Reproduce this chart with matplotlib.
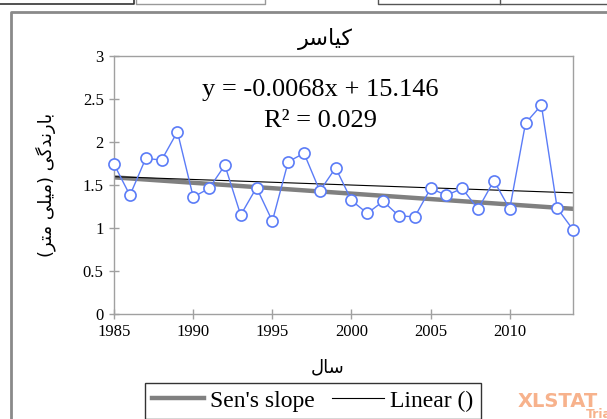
import numpy as np
import matplotlib
matplotlib.use("Agg")
import matplotlib.pyplot as plt
from matplotlib.lines import Line2D

# annual precipitation series, Kiasar station
years = np.arange(1985, 2015)
rain = [1.74, 1.38, 1.81, 1.79, 2.12, 1.36, 1.46, 1.73, 1.15, 1.47,
        1.08, 1.77, 1.87, 1.43, 1.70, 1.32, 1.17, 1.31, 1.14, 1.13,
        1.46, 1.38, 1.46, 1.22, 1.55, 1.22, 2.22, 2.43, 1.23, 0.98]

title_txt = "کیاسر"
xlabel_txt = "سال"
ylabel_txt = "بارندگی (میلی متر)"
eq_txt = "y = -0.0068x + 15.146"
r2_txt = "R² = 0.029"
xticks = [1985, 1990, 1995, 2000, 2005, 2010]
yticks = [0, 0.5, 1, 1.5, 2, 2.5, 3]

# minimal Persian shaping: contextual forms + right-to-left order
FORMS = {
    "ک": ("\uFB8E", "\uFB8F", "\uFB90", "\uFB91"),
    "ی": ("\uFBFC", "\uFBFD", "\uFBFE", "\uFBFF"),
    "س": ("\uFEB1", "\uFEB2", "\uFEB3", "\uFEB4"),
    "ل": ("\uFEDD", "\uFEDE", "\uFEDF", "\uFEE0"),
    "ب": ("\uFE8F", "\uFE90", "\uFE91", "\uFE92"),
    "ن": ("\uFEE5", "\uFEE6", "\uFEE7", "\uFEE8"),
    "گ": ("\uFB92", "\uFB93", "\uFB94", "\uFB95"),
    "م": ("\uFEE1", "\uFEE2", "\uFEE3", "\uFEE4"),
    "ت": ("\uFE95", "\uFE96", "\uFE97", "\uFE98"),
    "ا": ("\uFE8D", "\uFE8E"),
    "ر": ("\uFEAD", "\uFEAE"),
    "د": ("\uFEA9", "\uFEAA"),
}


def dual(c):
    return c in FORMS and len(FORMS[c]) == 4


def shape(s):
    out = []
    for i, c in enumerate(s):
        if c not in FORMS:
            out.append(c)
            continue
        prev = s[i - 1] if i > 0 else ""
        nxt = s[i + 1] if i + 1 < len(s) else ""
        jp = dual(prev)
        jn = dual(c) and nxt in FORMS
        f = FORMS[c]
        if jp and jn:
            out.append(f[3])
        elif jp:
            out.append(f[1])
        elif jn:
            out.append(f[2])
        else:
            out.append(f[0])
    vis = "".join(reversed(out))
    return vis.translate(str.maketrans("()", ")("))


plt.rcParams["font.family"] = ["Liberation Serif", "DejaVu Sans"]
fa = ["DejaVu Sans"]

W, H = 607, 419
def fx(px):
    return px / W
def fy(py):
    return 1 - py / H

fig = plt.figure(figsize=(6.07, 4.19), dpi=100)
ax = fig.add_axes([0.188, 0.251, 0.756, 0.615])

x = np.array(years, dtype=float)
y = np.array(rain)

# Sen's slope (Theil-Sen estimator)
i, j = np.triu_indices(len(x), 1)
sen_b = np.median((y[j] - y[i]) / (x[j] - x[i]))
sen_a = np.median(y - sen_b * x)
# ordinary least squares
lin_b, lin_a = np.polyfit(x, y, 1)

ax.plot(x, y, color="#5b7cf7", lw=1.0, marker="o", ms=8,
        mfc="white", mec="#5b7cf7", mew=1.2, zorder=3, clip_on=False)
ends = np.array([x[0], x[-1]])
ax.plot(ends, sen_a + sen_b * ends, color="#808080", lw=3.2,
        label="Sen's slope", zorder=2)
ax.plot(ends, lin_a + lin_b * ends, color="black", lw=0.8,
        label="Linear ()", zorder=2)

ax.set_xlim(1985, 2014)
ax.set_ylim(0, 3)
ax.set_xticks(xticks)
ax.set_yticks(yticks)
ax.set_yticklabels([f"{v:g}" for v in yticks])
ax.tick_params(direction="inout", length=7, width=1, color="#a0a0a0",
               labelsize=12, pad=4)
for sp in ax.spines.values():
    sp.set_color("#a0a0a0")
    sp.set_linewidth(1.0)

# title and x label sit on the centre of the whole chart area
fig.text(fx(325), fy(39), shape(title_txt), family=fa, fontsize=16,
         ha="center", va="center")
fig.text(fx(328), fy(367), shape(xlabel_txt), family=fa, fontsize=13,
         ha="center", va="center")
ax.set_ylabel(shape(ylabel_txt), family=fa, fontsize=13, labelpad=19)

ax.text(0.449, 0.87, eq_txt, transform=ax.transAxes, ha="center",
        va="center", fontsize=19)
ax.text(0.449, 0.75, r2_txt, transform=ax.transAxes, ha="center",
        va="center", fontsize=19)

leg = fig.legend(loc="upper left", bbox_to_anchor=(fx(145), fy(383)),
                 ncol=2, fontsize=17, frameon=True, fancybox=False,
                 edgecolor="black", handlelength=2.2, handletextpad=0.25,
                 columnspacing=0.75, borderpad=0.3, borderaxespad=0)
leg.get_frame().set_linewidth(1.0)

# chart frame
fig.add_artist(Line2D([fx(11), fx(11), 1.0], [0.0, fy(12), fy(12)],
                      color="#8a8a8a", lw=2.0))
# strip of neighbouring cells above the frame
fig.add_artist(Line2D([0, fx(134), fx(134)], [fy(4), fy(4), 1.0],
                      color="#333333", lw=1.2))
fig.add_artist(Line2D([fx(136), fx(136), fx(265), fx(265)],
                      [1.0, fy(4), fy(4), 1.0], color="#999999", lw=1.0))
fig.add_artist(Line2D([fx(378), fx(378), 1.0], [1.0, fy(4), fy(4)],
                      color="#555555", lw=1.0))
fig.add_artist(Line2D([fx(500), fx(500)], [1.0, fy(4)],
                      color="#555555", lw=1.0))

# watermark
fig.text(fx(518), fy(401), "XLSTAT", color="#f7b28c", fontsize=14,
         family="DejaVu Sans", weight="bold", va="center", ha="left")
fig.text(fx(586), fy(414), "Trial", color="#f7b28c", fontsize=9,
         family="DejaVu Sans", weight="bold", va="center", ha="left")

fig.savefig("out.png", dpi=100)
